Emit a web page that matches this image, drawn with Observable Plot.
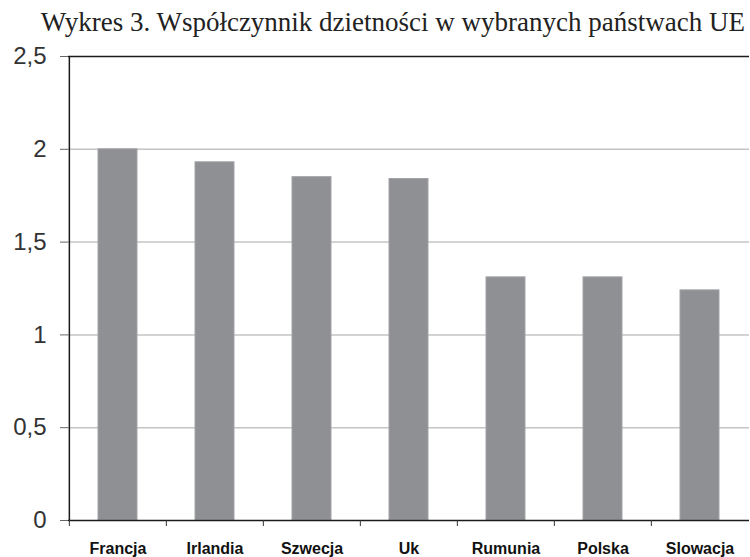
<!DOCTYPE html>
<html><head><meta charset="utf-8">
<script src="https://cdn.jsdelivr.net/npm/d3@7"></script>
<script src="https://cdn.jsdelivr.net/npm/@observablehq/plot@0.6"></script>
<style>
body{margin:0;background:#fff;width:750px;height:557px;overflow:hidden}
#title{height:40px;font-family:"Liberation Serif","Times New Roman",serif;font-size:27px;color:#222;text-align:right;padding-right:5px;box-sizing:border-box;line-height:27px;padding-top:9px;white-space:nowrap}
svg{display:block}
</style></head><body>
<div id="title">Wykres 3. Współczynnik dzietności w wybranych państwach UE</div>
<div id="chart"></div>
<script>
const countries = ["Francja","Irlandia","Szwecja","Uk","Rumunia","Polska","Slowacja"];
const fertility = [2.0, 1.93, 1.85, 1.84, 1.31, 1.31, 1.24];
const yTicks = [0, 0.5, 1, 1.5, 2, 2.5];
const gridTicks = [0.5, 1, 1.5, 2];

const data = countries.map((c, i) => ({country: c, value: fertility[i]}));
const W = 750, ML = 68, MR = 1;
const step = (W - ML - MR) / countries.length;
const fmt = d => String(d).replace(".", ",");

const chart = Plot.plot({
  width: W, height: 517,
  marginTop: 16, marginBottom: 37, marginLeft: ML, marginRight: MR,
  style: {background: "#fff", overflow: "visible"},
  x: {domain: countries, paddingInner: 0.6, paddingOuter: 0.3},
  y: {domain: [0, 2.5]},
  marks: [
    Plot.ruleY(gridTicks, {stroke: "#c4c4c4", strokeWidth: 1.5}),
    Plot.barY(data, {x: "country", y: "value", fill: "#8f9094", stroke: "#a3a4a7", strokeWidth: 1}),
    Plot.ruleY([2.5], {stroke: "#1a1a1a", strokeWidth: 1.5}),
    Plot.ruleY([0], {stroke: "#1a1a1a", strokeWidth: 1.5}),
    Plot.ruleX([countries[0]], {stroke: "#1a1a1a", strokeWidth: 1.5, dx: -step / 2}),
    Plot.axisY(yTicks, {tickFormat: fmt, tickSize: 8, tickPadding: 14, fontSize: 24, fill: "#333", stroke: "#666", fontFamily: "Liberation Sans, Arial, sans-serif", label: null}),
    Plot.axisX({tickSize: 6, tickFormat: () => "", dx: -step / 2, stroke: "#333", label: null}),
    Plot.axisX({tickSize: 0, tickPadding: 22, fontSize: 16, fontWeight: "bold", fill: "#111", fontFamily: "Liberation Sans, Arial, sans-serif", letterSpacing: "1.1px", label: null})
  ]
});
document.getElementById("chart").appendChild(chart);
</script>
</body></html>
